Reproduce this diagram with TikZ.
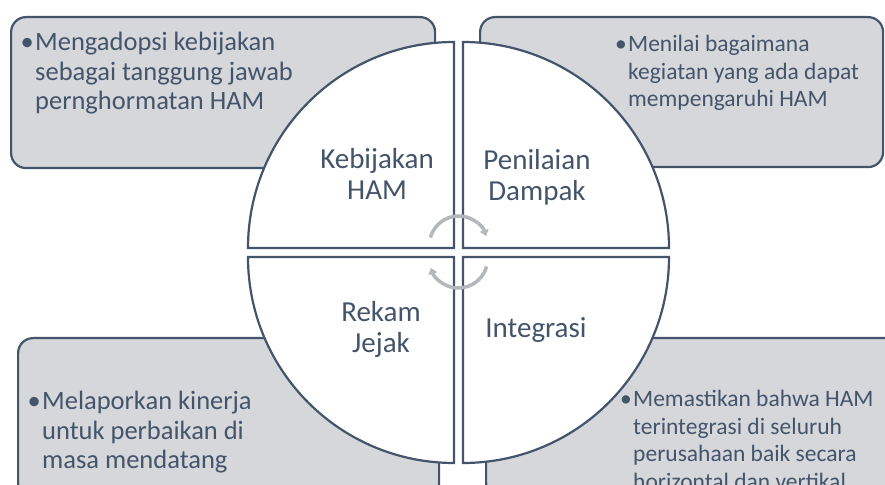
\documentclass[tikz,border=0pt]{standalone}
\usepackage{fontspec}
\setmainfont{Carlito}
\usetikzlibrary{arrows.meta}
\definecolor{slate}{HTML}{44546A}
\definecolor{boxgray}{HTML}{D5D7DB}
\definecolor{cyclegray}{HTML}{B4B7BC}
\newcommand{\bulletlines}[1]{\begin{tabular}[t]{@{}l@{}}\llap{•\hspace{1.5pt}}#1\end{tabular}}

\begin{document}
\begin{tikzpicture}[x=1pt, y=1pt,
  box/.style={draw=slate, fill=boxgray, line width=2.2pt, rounded corners=15pt, inner sep=0pt, anchor=north west},
  quarter/.style={draw=slate, fill=white, line width=2.2pt},
  lefttext/.style={text=slate, font=\fontsize{26.5}{29.5}\selectfont, inner sep=0pt, anchor=base west},
  righttext/.style={text=slate, font=\fontsize{23.5}{27.5}\selectfont, inner sep=0pt, anchor=base west},
  phase/.style={text=slate, font=\fontsize{29}{30.5}\selectfont, inner sep=0pt, anchor=base},
  cyc/.style={draw=cyclegray, line width=3.5pt, -{Triangle[length=6pt,width=9pt]}}]
\useasboundingbox (0,0) rectangle (885,484);
\clip (0,0) rectangle (885,484);
\fill[white] (0,0) rectangle (885,484);
% grey boxes behind the circle
\node[box, minimum width=424pt, minimum height=151pt] (kebijakanBox) at (10,468) {};
\node[box, minimum width=403pt, minimum height=150pt] (penilaianBox) at (479,468) {};
\node[box, minimum width=421pt, minimum height=160pt] (rekamBox) at (17,147) {};
\node[box, minimum width=420pt, minimum height=160pt] (integrasiBox) at (485,147) {};
% four quarters of the circle
\draw[quarter] (454,236) -- (248,236) arc[start angle=180, end angle=90, radius=206] -- cycle;
\draw[quarter] (463,236) -- (463,442) arc[start angle=90, end angle=0, radius=206] -- cycle;
\draw[quarter] (463,227) -- (669,227) arc[start angle=0, end angle=-90, radius=206] -- cycle;
\draw[quarter] (454,227) -- (454,21) arc[start angle=270, end angle=180, radius=206] -- cycle;
% cycle arrows
\draw[cyc] (430.5,246.5) arc[start angle=165, end angle=18, radius=29];
\draw[cyc] (486.5,217.5) arc[start angle=-15, end angle=-162, radius=29];
% phase names
\node[phase] (kebijakan) at (377,315) {\begin{tabular}[t]{@{}c@{}}Kebijakan\\HAM\end{tabular}};
\node[phase] (penilaian) at (537,314) {\begin{tabular}[t]{@{}c@{}}Penilaian\\Dampak\end{tabular}};
\node[phase] (rekam) at (381,162) {\begin{tabular}[t]{@{}c@{}}Rekam\\Jejak\end{tabular}};
\node[phase] (integrasi) at (536,146) {Integrasi};
% box texts
\node[lefttext] (kebijakanText) at (35,433) {\bulletlines{Mengadopsi kebijakan\\sebagai tanggung jawab\\pernghormatan HAM}};
\node[righttext] (penilaianText) at (628,432) {\bulletlines{Menilai bagaimana\\kegiatan yang ada dapat\\mempengaruhi HAM}};
\node[lefttext] (rekamText) at (42,74) {\bulletlines{Melaporkan kinerja\\untuk perbaikan di\\masa mendatang}};
\node[righttext] (integrasiText) at (633,77) {\bulletlines{Memastikan bahwa HAM\\terintegrasi di seluruh\\perusahaan baik secara\\horizontal dan vertikal}};
\end{tikzpicture}
\end{document}
